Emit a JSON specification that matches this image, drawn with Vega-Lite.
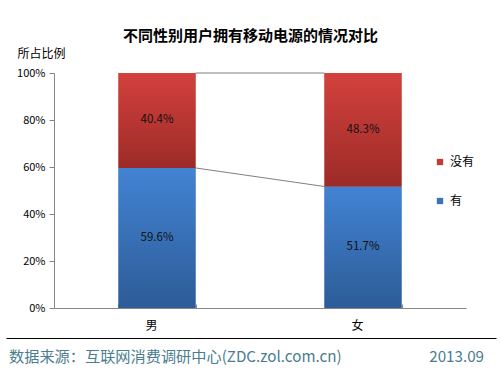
{
  "$schema": "https://vega.github.io/schema/vega-lite/v6.json",
  "padding": {"left": 9, "right": 5, "top": 29, "bottom": 3},
  "background": "white",
  "config": {"view": {"stroke": null}, "font": "Noto Sans CJK SC"},
  "title": {"text": "不同性别用户拥有移动电源的情况对比", "fontSize": 15, "fontWeight": "bold", "color": "#000000", "anchor": "middle", "dx": -26, "offset": 3},
  "bounds": "flush",
  "spacing": 30,
  "vconcat": [
    {
      "width": 412,
      "height": 235,
      "data": {"values": [
        {"gender": "男", "status": "有", "share": 0.596},
        {"gender": "男", "status": "没有", "share": 0.404},
        {"gender": "女", "status": "有", "share": 0.517},
        {"gender": "女", "status": "没有", "share": 0.483}
      ]},
      "layer": [
        {
          "data": {"values": [
            {"from": "男", "to": "女", "y": 1, "y2": 1},
            {"from": "男", "to": "女", "y": 0.596, "y2": 0.517}
          ]},
          "mark": {"type": "rule", "color": "#808080", "strokeWidth": 1},
          "encoding": {
            "x": {"field": "from", "type": "nominal", "bandPosition": 1},
            "x2": {"field": "to", "bandPosition": 0},
            "y": {"field": "y", "type": "quantitative"},
            "y2": {"field": "y2"}
          }
        },
        {
          "mark": {"type": "bar"},
          "encoding": {
            "x": {"field": "gender", "type": "nominal",
              "scale": {"domain": ["男", "女"], "paddingInner": 0.626, "paddingOuter": 0.313},
              "axis": {"title": null, "labelAngle": 0, "labelFontSize": 12, "labelColor": "#000000", "domainColor": "#868686", "tickColor": "#868686", "tickBand": "extent", "tickSize": -4, "labelPadding": 21}},
            "y": {"field": "share", "type": "quantitative", "stack": "zero",
              "scale": {"domain": [0, 1]},
              "axis": {"title": "所占比例", "format": ".0%", "values": [0, 0.2, 0.4, 0.6, 0.8, 1], "grid": false, "domainColor": "#868686", "tickColor": "#868686", "tickSize": 5, "labelFontSize": 11, "labelColor": "#000000", "labelPadding": 4, "titleAngle": 0, "titleAlign": "left", "titleBaseline": "middle", "titleX": -37, "titleY": -20, "titleFontSize": 12, "titleFontWeight": "normal", "titleColor": "#000000"}},
            "color": {"field": "status", "type": "nominal",
              "scale": {"domain": ["没有", "有"], "range": ["#c53a37", "#3a72bb"]},
              "legend": {"title": null, "orient": "none", "legendX": 380, "legendY": 83, "symbolType": "square", "symbolSize": 40, "symbolStrokeWidth": 0, "labelFontSize": 12, "labelColor": "#000000", "rowPadding": 27, "labelOffset": 4, "padding": 0}},
            "order": {"field": "status", "sort": "ascending"}
          }
        },
        {
          "mark": {"type": "bar"},
          "encoding": {
            "x": {"field": "gender", "type": "nominal"},
            "y": {"field": "share", "type": "quantitative", "stack": "zero"},
            "detail": {"field": "status"},
            "order": {"field": "status", "sort": "ascending"},
            "fill": {
              "condition": {"test": "datum.status === '有'", "value": {"gradient": "linear", "x1": 0, "y1": 0, "x2": 0, "y2": 1, "stops": [{"offset": 0, "color": "#4283d3"}, {"offset": 1, "color": "#2d5c97"}]}},
              "value": {"gradient": "linear", "x1": 0, "y1": 0, "x2": 0, "y2": 1, "stops": [{"offset": 0, "color": "#d3413d"}, {"offset": 1, "color": "#9c2b28"}]}
            }
          }
        },
        {
          "mark": {"type": "text", "fontSize": 11.5, "color": "#111111"},
          "encoding": {
            "x": {"field": "gender", "type": "nominal"},
            "y": {"field": "share", "type": "quantitative", "stack": "zero", "bandPosition": 0.5},
            "detail": {"field": "status"},
            "order": {"field": "status", "sort": "ascending"},
            "text": {"field": "share", "type": "quantitative", "format": ".1%"}
          }
        }
      ]
    },
    {
      "width": 412,
      "height": 34,
      "layer": [
        {
          "data": {"values": [{"src": "数据来源：互联网消费调研中心(ZDC.zol.com.cn)"}]},
          "mark": {"type": "text", "align": "left", "dx": 3, "dy": 2, "fontSize": 15.2, "color": "#4a7d8f"},
          "encoding": {
            "x": {"datum": 0, "type": "quantitative",
              "scale": {"domain": [0, 1], "range": [-48, 442]},
              "axis": {"orient": "top", "domainColor": "#000000", "domainWidth": 1, "ticks": false, "labels": false, "grid": false, "title": null}},
            "text": {"field": "src"}
          }
        },
        {
          "data": {"values": [{"date": "2013.09"}]},
          "mark": {"type": "text", "align": "right", "dx": -12, "dy": 2, "fontSize": 15.2, "color": "#4a7d8f"},
          "encoding": {
            "x": {"datum": 1, "type": "quantitative"},
            "text": {"field": "date"}
          }
        }
      ]
    }
  ]
}
